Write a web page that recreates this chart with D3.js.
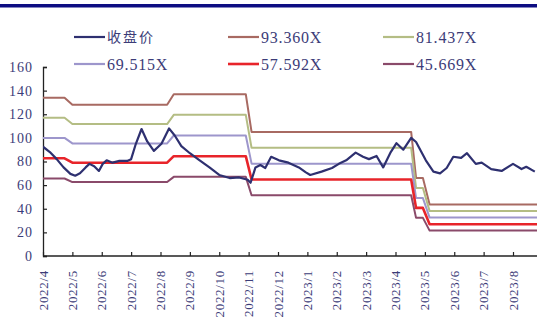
<!DOCTYPE html>
<html><head><meta charset="utf-8">
<script src="https://cdn.jsdelivr.net/npm/d3@7"></script>
<style>html,body{margin:0;padding:0;background:#fff;}svg{display:block;}</style>
</head><body>
<script>
// ---- data ----
const monthTicks = ["2022/4","2022/5","2022/6","2022/7","2022/8","2022/9","2022/10","2022/11","2022/12","2023/1","2023/2","2023/3","2023/4","2023/5","2023/6","2023/7","2023/8"];
const yTicks = [0,20,40,60,80,100,120,140,160];

const priceDates = ["2022-04-01","2022-04-08","2022-04-15","2022-04-22","2022-04-29","2022-05-04","2022-05-09","2022-05-15","2022-05-19","2022-05-24","2022-05-29","2022-06-02","2022-06-06","2022-06-12","2022-06-19","2022-06-27","2022-07-01","2022-07-06","2022-07-12","2022-07-18","2022-07-25","2022-08-02","2022-08-10","2022-08-16","2022-08-23","2022-09-01","2022-09-11","2022-09-21","2022-10-01","2022-10-12","2022-10-22","2022-10-31","2022-11-03","2022-11-08","2022-11-13","2022-11-18","2022-11-24","2022-12-02","2022-12-12","2022-12-23","2022-12-30","2023-01-04","2023-01-16","2023-01-27","2023-02-03","2023-02-10","2023-02-19","2023-02-26","2023-03-04","2023-03-12","2023-03-19","2023-03-27","2023-04-02","2023-04-09","2023-04-17","2023-04-22","2023-05-02","2023-05-10","2023-05-17","2023-05-24","2023-05-31","2023-06-08","2023-06-14","2023-06-23","2023-06-29","2023-07-09","2023-07-20","2023-08-01","2023-08-10","2023-08-15","2023-08-24"];
const priceValues = [92.5,88,82,75,69.5,68,70,75,78,76,72,78,81,79,80.5,80.5,82,95,107.5,97,89,95,108,102,93,87,81,75,68.6,66,66.5,64.5,62,75,77,74.5,84,81,79,75,71,68.6,71.4,74.5,78,81,87.5,84,82,84.7,75,88,95.5,90,100,96.5,81,71.4,70,74.5,84,83,87,78,79,73.6,72,78,73.6,75.5,71.4];

const bandDates = ["2022-04-01","2022-04-23","2022-05-01","2022-08-08","2022-08-15","2022-10-29","2022-11-04","2023-04-17","2023-04-22","2023-04-29","2023-05-06","2023-08-31"];
const band93 = [134,134,128,128,137,137,105,105,66,66,43.5,43.5];
const band81 = [117,117,111.7,111.7,119.5,119.5,91.6,91.6,57.6,57.6,38,38];
const band69 = [100,100,95.3,95.3,102,102,78.2,78.2,49,49,32.5,32.5];
const band57 = [82.7,82.7,79,79,84.5,84.5,64.8,64.8,40.7,40.7,26.9,26.9];
const band45 = [65.6,65.6,62.6,62.6,67,67,51.4,51.4,32.3,32.3,21.5,21.5];

const seriesNames = ["收盘价","93.360X","81.437X","69.515X","57.592X","45.669X"];
const seriesColors = ["#2e3070","#a86a62","#b4bd84","#9d96cc","#e8242a","#8a4a6a"];

// ---- chart ----
const W = 537, H = 322;
const svg = d3.select("body").append("svg").attr("width", W).attr("height", H);
const textColor = "#3c3c78";
const serif = "'Liberation Serif','Times New Roman',serif";

svg.append("rect").attr("x",0).attr("y",4).attr("width",W).attr("height",3.5).attr("fill","#0d0d82");

function monthPos(s){
  const [y,m,d] = s.split("-").map(Number);
  const dim = new Date(y, m, 0).getDate();
  return (y-2022)*12 + (m-4) + (d-1)/dim;
}

const x = d3.scaleLinear().domain([0,16]).range([43,513]);
const y = d3.scaleLinear().domain([0,160]).range([256,67]);

const clip = svg.append("clipPath").attr("id","c").append("rect")
  .attr("x",43).attr("y",0).attr("width",W-43).attr("height",H);

// axes
const yAxis = d3.axisRight(y).tickValues(yTicks).tickSize(4).tickFormat("");
const gy = svg.append("g").attr("transform","translate(43,0)").call(yAxis);
gy.select(".domain").attr("stroke","#222").attr("stroke-width",1.3);
gy.selectAll(".tick line").attr("stroke","#222").attr("stroke-width",1.2);
svg.append("g").selectAll("text").data(yTicks).join("text")
  .attr("x",33).attr("y",d=>y(d)).attr("dy","0.35em").attr("text-anchor","end")
  .attr("font-family",serif).attr("font-size",14).attr("letter-spacing",1)
  .attr("fill",textColor).text(d=>d);

const xAxis = d3.axisTop(x).tickValues(d3.range(monthTicks.length)).tickSize(4).tickFormat("");
const gx = svg.append("g").attr("transform","translate(0,256)").call(xAxis);
gx.select(".domain").remove();
gx.selectAll(".tick line").attr("stroke","#222").attr("stroke-width",1.2);
svg.append("line").attr("x1",43).attr("x2",W).attr("y1",256).attr("y2",256).attr("stroke","#222").attr("stroke-width",1.3);
svg.append("g").selectAll("text").data(monthTicks).join("text")
  .attr("transform",(d,i)=>`translate(${x(i)+4.5},270) rotate(-90)`)
  .attr("text-anchor","end")
  .attr("font-family",serif).attr("font-size",13).attr("letter-spacing",0.7)
  .attr("fill",textColor).text(d=>d);

// lines
const line = d3.line().x(d=>x(d[0])).y(d=>y(d[1]));
const bands = [band93, band81, band69, band57, band45];
const plot = svg.append("g").attr("clip-path","url(#c)");
bands.forEach((vals,i)=>{
  const pts = bandDates.map((d,j)=>[monthPos(d), vals[j]]);
  plot.append("path").attr("d",line(pts)).attr("fill","none")
    .attr("stroke",seriesColors[i+1]).attr("stroke-width", i===3 ? 2.6 : 2)
    .attr("stroke-linejoin","round");
});
const ppts = priceDates.map((d,j)=>[monthPos(d), priceValues[j]]);
plot.append("path").attr("d",line(ppts)).attr("fill","none")
  .attr("stroke",seriesColors[0]).attr("stroke-width",2.2).attr("stroke-linejoin","round");

// legend
const legX = [74,228,383], legY = [37,64];
seriesNames.forEach((n,i)=>{
  const cx = legX[i%3], cy = legY[Math.floor(i/3)];
  const g = svg.append("g");
  g.append("line").attr("x1",cx).attr("x2",cx+31).attr("y1",cy).attr("y2",cy)
    .attr("stroke",seriesColors[i]).attr("stroke-width", i===4 ? 2.6 : 2.2);
  g.append("text").attr("x",cx+33).attr("y",cy).attr("dy","0.35em")
    .attr("font-family", i===0 ? "'Noto Sans CJK SC',serif" : serif)
    .attr("font-size", i===0 ? 14 : 16).attr("letter-spacing", i===0 ? 2 : 0.8)
    .attr("fill",textColor).text(n);
});
</script>
</body></html>
